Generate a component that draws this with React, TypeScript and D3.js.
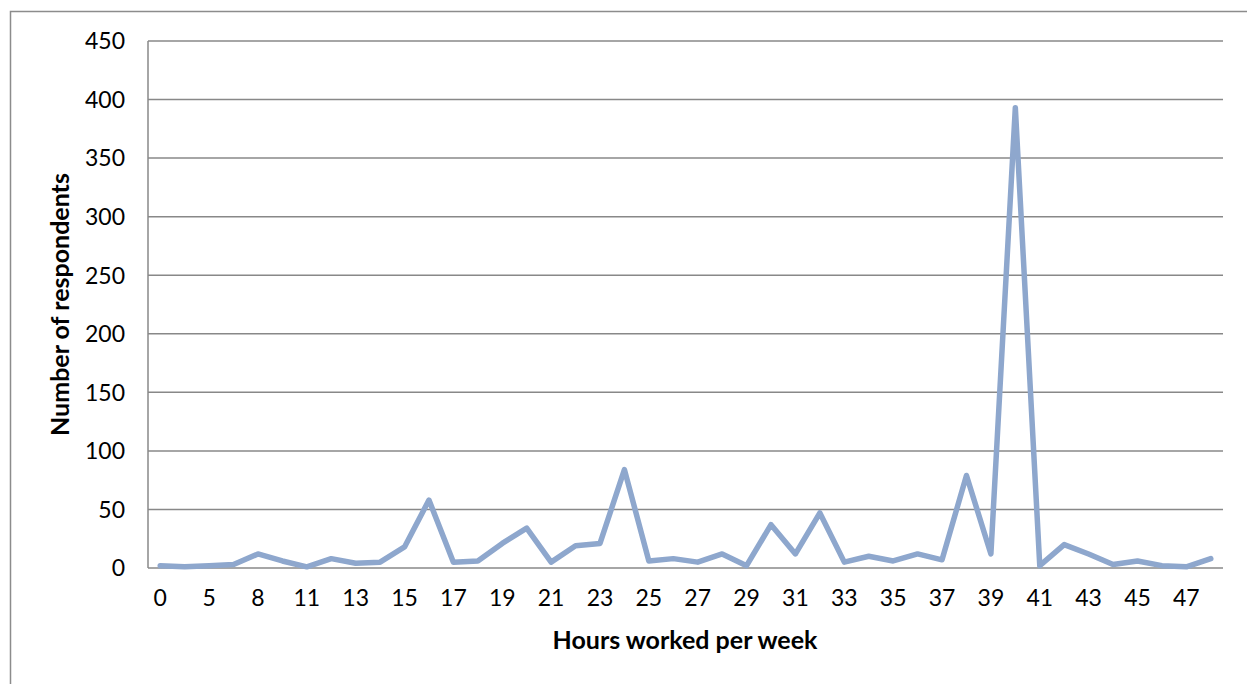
import React from "react";
import * as d3 from "d3";

// Hours worked per week (category axis; every other label is shown)
const hours: number[] = [
  0, 3, 5, 7, 8, 10, 11, 12, 13, 14, 15, 16, 17, 18, 19, 20, 21, 22, 23, 24, 25, 26,
  27, 28, 29, 30, 31, 32, 33, 34, 35, 36, 37, 38, 39, 40, 41, 42, 43, 44, 45, 46, 47, 48,
];

// Number of respondents for each category
const respondents: number[] = [
  2, 1, 2, 3, 12, 6, 1, 8, 4, 5, 18, 58, 5, 6, 21, 34, 5, 19, 21, 84, 6, 8,
  5, 12, 2, 37, 12, 47, 5, 10, 6, 12, 7, 79, 12, 393, 2, 20, 12, 3, 6, 2, 1, 8,
];

const yTicks: number[] = [0, 50, 100, 150, 200, 250, 300, 350, 400, 450];

const W = 1247;
const H = 684;
const plot = { left: 148, right: 1223, top: 41, bottom: 568 };
const FONT = "Lato, 'Open Sans', 'Liberation Sans', sans-serif";

export default function App() {
  const x = d3
    .scalePoint<number>()
    .domain(d3.range(hours.length))
    .range([plot.left, plot.right])
    .padding(0.5);
  const y = d3.scaleLinear().domain([0, 450]).range([plot.bottom, plot.top]);

  const line = d3
    .line<number>()
    .x((_, i) => x(i) as number)
    .y((d) => y(d));

  const gridColor = "#888888";

  return (
    <svg
      width={W}
      height={H}
      style={{ position: "absolute", left: 0, top: 0, background: "#fff" }}
      fontFamily={FONT}
    >
      {/* chart frame */}
      <rect x={10.5} y={11.5} width={W + 20} height={H + 20} fill="none" stroke="#8c8c8c" strokeWidth={1.5} />

      {/* horizontal gridlines */}
      {yTicks.map((t) => (
        <line
          key={t}
          x1={plot.left}
          x2={plot.right}
          y1={y(t)}
          y2={y(t)}
          stroke={gridColor}
          strokeWidth={1.5}
        />
      ))}
      {/* value axis */}
      <line x1={plot.left} x2={plot.left} y1={plot.top} y2={plot.bottom} stroke={gridColor} strokeWidth={1.5} />

      {/* y tick labels */}
      {yTicks.map((t) => (
        <text
          key={t}
          x={125}
          y={y(t)}
          dy="0.36em"
          textAnchor="end"
          fontSize={23}
          fill="#000"
        >
          {t}
        </text>
      ))}

      {/* x tick labels (every other category) */}
      {hours.map((h, i) =>
        i % 2 === 0 ? (
          <text
            key={i}
            x={x(i) as number}
            y={606}
            textAnchor="middle"
            fontSize={23}
            fill="#000"
          >
            {h}
          </text>
        ) : null
      )}

      {/* data line */}
      <path
        d={line(respondents) || ""}
        fill="none"
        stroke="#8ea7cd"
        strokeWidth={5.5}
        strokeLinejoin="round"
        strokeLinecap="round"
      />

      {/* axis titles */}
      <text x={685} y={649} textAnchor="middle" fontSize={25} fontWeight="bold" fill="#000">
        Hours worked per week
      </text>
      <text
        transform={`translate(69, ${(plot.top + plot.bottom) / 2}) rotate(-90)`}
        textAnchor="middle"
        fontSize={25}
        fontWeight="bold"
        fill="#000"
      >
        Number of respondents
      </text>
    </svg>
  );
}
